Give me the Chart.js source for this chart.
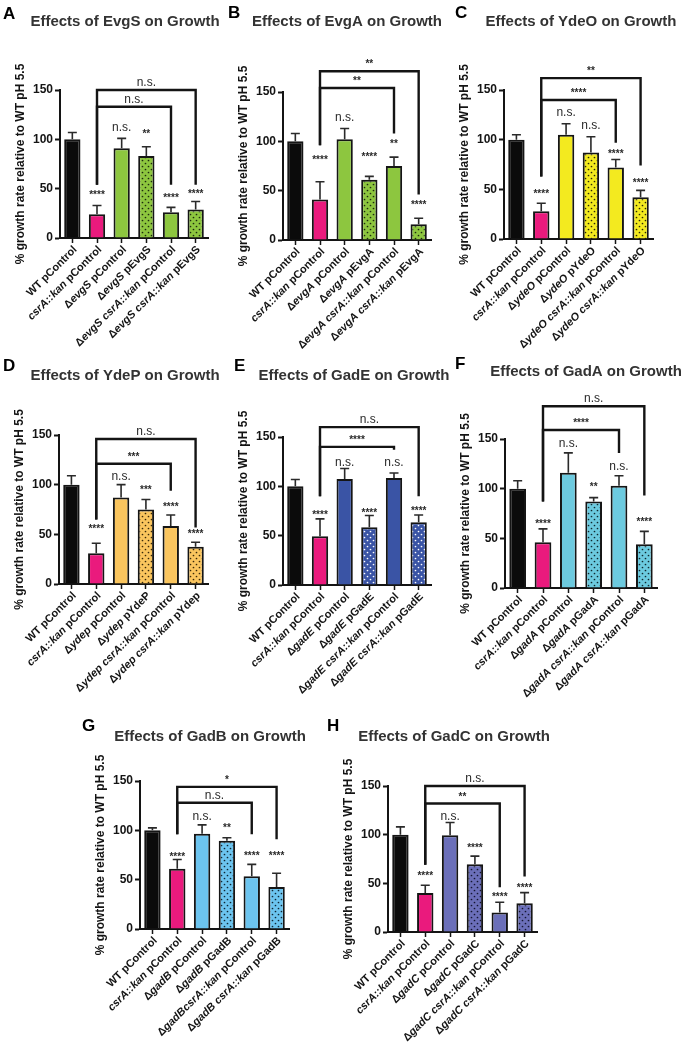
<!DOCTYPE html>
<html>
<head>
<meta charset="utf-8">
<script src="https://cdn.jsdelivr.net/npm/chart.js@4.4.1/dist/chart.umd.min.js"></script>
<style>
  html, body { margin: 0; padding: 0; background: #fff; width: 685px; height: 1049px; overflow: hidden; position: relative; }
  canvas { position: absolute; }
</style>
</head>
<body>
<script>
// ---- data (% growth rate relative to WT pH 5.5) ----
// underscores toggle italics in the labels
const labelsA = ['WT pControl', '_csrA::kan_ pControl', 'Δ_evgS_ pControl', 'Δ_evgS_ pEvgS', 'Δ_evgS csrA::kan_ pControl', 'Δ_evgS csrA::kan_ pEvgS'];
const meanA = [100, 24, 91, 83, 26, 29];
const sdA   = [7, 9, 10, 9.5, 5, 8];
const sigA  = ['', '****', 'n.s.', '**', '****', '****'];
const sigYA = [0, 46, 112, 108, 43, 47];
const bracketsA = [
  { to: 5, y: 150, text: 'n.s.', legL: 54, legR: 54 },
  { to: 4, y: 133, text: 'n.s.', legL: 54, legR: 54 }
];

const labelsB = ['WT pControl', '_csrA::kan_ pControl', 'Δ_evgA_ pControl', 'Δ_evgA_ pEvgA', 'Δ_evgA csrA::kan_ pControl', 'Δ_evgA csrA::kan_ pEvgA'];
const meanB = [100, 41, 102, 61, 75, 16];
const sdB   = [8, 18, 11, 3.5, 9, 6];
const sigB  = ['', '****', 'n.s.', '****', '**', '****'];
const sigYB = [0, 84, 124, 87, 100, 38];
const bracketsB = [
  { to: 5, y: 171, text: '**', legL: 96, legR: 46 },
  { to: 4, y: 154, text: '**', legL: 96, legR: 108 }
];

const labelsC = ['WT pControl', '_csrA::kan_ pControl', 'Δ_ydeO_ pControl', 'Δ_ydeO_ pYdeO', 'Δ_ydeO csrA::kan_ pControl', 'Δ_ydeO csrA::kan_ pYdeO'];
const meanC = [100, 28, 105, 87, 72, 42];
const sdC   = [5, 8, 11, 16, 8, 7];
const sigC  = ['', '****', 'n.s.', 'n.s.', '****', '****'];
const sigYC = [0, 48, 127, 114, 88, 59];
const bracketsC = [
  { to: 5, y: 162, text: '**', legL: 63, legR: 74 },
  { to: 4, y: 140, text: '****', legL: 63, legR: 97 }
];

const labelsD = ['WT pControl', '_csrA::kan_ pControl', 'Δ_ydep_ pControl', 'Δ_ydep_ pYdeP', 'Δ_ydep csrA::kan_ pControl', 'Δ_ydep csrA::kan_ pYdep'];
const meanD = [100, 31, 87, 75, 58.5, 37.5];
const sdD   = [9, 10, 13, 10, 11, 4.5];
const sigD  = ['', '****', 'n.s.', '***', '****', '****'];
const sigYD = [0, 58, 108, 97, 80, 53];
const bracketsD = [
  { to: 5, y: 146, text: 'n.s.', legL: 65, legR: 57 },
  { to: 4, y: 121, text: '***', legL: 65, legR: 94 }
];

const labelsE = ['WT pControl', '_csrA::kan_ pControl', 'Δ_gadE_ pControl', 'Δ_gadE_ pGadE', 'Δ_gadE csrA::kan_ pControl', 'Δ_gadE csrA::kan_ pGadE'];
const meanE = [100, 49.5, 107.5, 58.5, 108.5, 63.5];
const sdE   = [7, 17.5, 10.5, 12, 5, 7.5];
const sigE  = ['', '****', 'n.s.', '****', 'n.s.', '****'];
const sigYE = [0, 74, 124, 76, 124, 78];
const bracketsE = [
  { to: 5, y: 160, text: 'n.s.', legL: 90, legR: 90 },
  { to: 4, y: 140, text: '****', legL: 90, legR: 137 }
];

const labelsF = ['WT pControl', '_csrA::kan_ pControl', 'Δ_gadA_ pControl', 'Δ_gadA_ pGadA', 'Δ_gadA csrA::kan_ pControl', 'Δ_gadA csrA::kan_ pGadA'];
const meanF = [100, 46, 116, 87, 103, 44];
const sdF   = [8, 13.5, 20, 4, 10, 13];
const sigF  = ['', '****', 'n.s.', '**', 'n.s.', '****'];
const sigYF = [0, 67, 145, 104, 122, 69];
const bracketsF = [
  { to: 5, y: 183, text: 'n.s.', legL: 87, legR: 93 },
  { to: 4, y: 159, text: '****', legL: 87, legR: 136 }
];

const labelsG = ['WT pControl', '_csrA::kan_ pControl', 'Δ_gadB_ pControl', 'Δ_gadB_ pGadB', 'Δ_gadBcsrA::kan_ pControl', 'Δ_gadB csrA::kan_ pGadB'];
const meanG = [100, 61, 96.5, 89.5, 53.5, 42.5];
const sdG   = [2.5, 9.5, 9, 3, 12, 14];
const sigG  = ['', '****', 'n.s.', '**', '****', '****'];
const sigYG = [0, 76, 114, 105, 77, 77];
const bracketsG = [
  { to: 5, y: 144, text: '*', legL: 96, legR: 91 },
  { to: 4, y: 128, text: 'n.s.', legL: 96, legR: 96 }
];

const labelsH = ['WT pControl', '_csrA::kan_ pControl', 'Δ_gadC_ pControl', 'Δ_gadC_ pGadC', 'Δ_gadC csrA::kan_ pControl', 'Δ_gadC csrA::kan_ pGadC'];
const meanH = [100, 40, 99.5, 69.5, 20, 29.5];
const sdH   = [8, 8, 13, 8.5, 10.5, 11];
const sigH  = ['', '****', 'n.s.', '****', '****', '****'];
const sigYH = [0, 60, 118, 89, 39, 48];
const bracketsH = [
  { to: 5, y: 150, text: 'n.s.', legL: 69, legR: 57 },
  { to: 4, y: 132, text: '**', legL: 69, legR: 46 }
];

const yTicks = [0, 50, 100, 150];
const yTitle = '% growth rate relative to WT pH 5.5';

// ---- layout / styling (page pixels) ----
const FAMILY = "'Liberation Sans', Arial, Helvetica, sans-serif";
const INK = '#141414';
const WT_COLOR = '#0b0b0b';
const CSRA_COLOR = '#ea1a7d';

const panels = [
  { letter: 'A', title: 'Effects of EvgS on Growth', box: [0, 0, 228, 350], axisX: 60, top: 90, bottom: 238, right: 208,
    titleX: 125, titleY: 22, letterX: 3, letterY: 6, color: '#8dc63f', dot: '#1d2a0e',
    labels: labelsA, mean: meanA, sd: sdA, sig: sigA, sigY: sigYA, brackets: bracketsA },
  { letter: 'B', title: 'Effects of EvgA on Growth', box: [225, 0, 230, 350], axisX: 283, top: 92, bottom: 240, right: 431,
    titleX: 347, titleY: 22, letterX: 228, letterY: 5, color: '#8dc63f', dot: '#1d2a0e',
    labels: labelsB, mean: meanB, sd: sdB, sig: sigB, sigY: sigYB, brackets: bracketsB },
  { letter: 'C', title: 'Effects of YdeO on Growth', box: [455, 0, 230, 350], axisX: 504, top: 90, bottom: 239, right: 653,
    titleX: 581, titleY: 22, letterX: 455, letterY: 5, color: '#f3ea1f', dot: '#2a2706',
    labels: labelsC, mean: meanC, sd: sdC, sig: sigC, sigY: sigYC, brackets: bracketsC },
  { letter: 'D', title: 'Effects of YdeP on Growth', box: [0, 350, 228, 362], axisX: 59, top: 435, bottom: 584, right: 208,
    titleX: 125, titleY: 376, letterX: 3, letterY: 358, color: '#fac55e', dot: '#3a2a08',
    labels: labelsD, mean: meanD, sd: sdD, sig: sigD, sigY: sigYD, brackets: bracketsD },
  { letter: 'E', title: 'Effects of GadE on Growth', box: [225, 350, 230, 362], axisX: 283, top: 437, bottom: 585, right: 431,
    titleX: 354, titleY: 376, letterX: 234, letterY: 358, color: '#3a54a5', dot: '#ffffff',
    labels: labelsE, mean: meanE, sd: sdE, sig: sigE, sigY: sigYE, brackets: bracketsE },
  { letter: 'F', title: 'Effects of GadA on Growth', box: [455, 350, 230, 362], axisX: 505, top: 439, bottom: 588, right: 657,
    titleX: 586, titleY: 372, letterX: 455, letterY: 356, color: '#6ccadf', dot: '#10282d',
    labels: labelsF, mean: meanF, sd: sdF, sig: sigF, sigY: sigYF, brackets: bracketsF },
  { letter: 'G', title: 'Effects of GadB on Growth', box: [40, 700, 300, 349], axisX: 140, top: 781, bottom: 929, right: 289,
    titleX: 210, titleY: 737, letterX: 82, letterY: 718, color: '#6cc4ef', dot: '#0f2633',
    labels: labelsG, mean: meanG, sd: sdG, sig: sigG, sigY: sigYG, brackets: bracketsG },
  { letter: 'H', title: 'Effects of GadC on Growth', box: [320, 700, 300, 349], axisX: 388, top: 786, bottom: 932, right: 537,
    titleX: 454, titleY: 737, letterX: 327, letterY: 718, color: '#6b6fb9', dot: '#141530',
    labels: labelsH, mean: meanH, sd: sdH, sig: sigH, sigY: sigYH, brackets: bracketsH }
];

// dotted fill for the "complemented" bars
function dotted (base, dot) {
  const c = document.createElement('canvas');
  c.width = 6; c.height = 6;
  const g = c.getContext('2d');
  g.fillStyle = base;
  g.fillRect(0, 0, 6, 6);
  g.fillStyle = dot;
  [[1.5, 1.5], [4.5, 4.5]].forEach(([x, y]) => {
    g.beginPath(); g.arc(x, y, 0.85, 0, Math.PI * 2); g.fill();
  });
  return g.createPattern(c, 'repeat');
}

// label text with _italic_ parts, drawn right-aligned at the origin
function richText (ctx, text, size) {
  const parts = text.split('_');
  const fonts = parts.map((p, k) => (k % 2 ? 'italic ' : '') + 'bold ' + size + 'px ' + FAMILY);
  const widths = parts.map((p, k) => { ctx.font = fonts[k]; return ctx.measureText(p).width; });
  let x = -widths.reduce((a, b) => a + b, 0);
  parts.forEach((p, k) => { ctx.font = fonts[k]; ctx.fillText(p, x, 0); x += widths[k]; });
}

const panelPlugin = {
  id: 'panel',
  afterDatasetsDraw (chart, args, p) {
    const ctx = chart.ctx;
    const ys = chart.scales.y;
    const bars = chart.getDatasetMeta(0).data;
    ctx.save();
    ctx.strokeStyle = '#2a2a2a';
    ctx.lineWidth = 1.6;
    p.sd.forEach((sd, i) => {
      const x = bars[i].x;
      const yTop = ys.getPixelForValue(p.mean[i] + sd);
      ctx.beginPath();
      ctx.moveTo(x, bars[i].y);
      ctx.lineTo(x, yTop);
      ctx.moveTo(x - 4.5, yTop);
      ctx.lineTo(x + 4.5, yTop);
      ctx.stroke();
    });
    ctx.restore();
  },
  afterDraw (chart, args, p) {
    const ctx = chart.ctx;
    const ys = chart.scales.y;
    const xs = chart.scales.x;
    const area = chart.chartArea;
    const ox = p.box[0], oy = p.box[1];
    ctx.save();

    // panel letter + title
    ctx.fillStyle = '#000';
    ctx.font = 'bold 17px ' + FAMILY;
    ctx.textAlign = 'left';
    ctx.textBaseline = 'top';
    ctx.fillText(p.letter, p.letterX - ox, p.letterY - oy);
    ctx.fillStyle = '#333';
    ctx.font = 'bold 15px ' + FAMILY;
    ctx.textAlign = 'center';
    ctx.textBaseline = 'middle';
    ctx.fillText(p.title, p.titleX - ox, p.titleY - oy);

    // y axis title
    ctx.save();
    ctx.translate(area.left - 39, (area.top + area.bottom) / 2);
    ctx.rotate(-Math.PI / 2);
    ctx.fillStyle = INK;
    ctx.font = 'bold 12px ' + FAMILY;
    ctx.fillText(yTitle, 0, 0);
    ctx.restore();

    // rotated category labels
    ctx.fillStyle = INK;
    ctx.textAlign = 'left';
    ctx.textBaseline = 'middle';
    p.labels.forEach((lab, i) => {
      const x = xs.getPixelForValue(i);
      ctx.save();
      ctx.translate(x + 3, area.bottom + 10);
      ctx.rotate(-Math.PI / 4);
      richText(ctx, lab, 11);
      ctx.restore();
    });

    // significance marks
    const mark = (txt, x, yPix) => {
      const star = txt.indexOf('*') === 0;
      ctx.font = star ? 'bold 10px ' + FAMILY : '12px ' + FAMILY;
      ctx.fillText(txt, x, yPix);
    };
    ctx.fillStyle = '#2a2a2a';
    ctx.textAlign = 'center';
    ctx.textBaseline = 'alphabetic';
    p.sig.forEach((s, i) => {
      if (!s) return;
      const yc = ys.getPixelForValue(p.sigY[i]);
      mark(s, xs.getPixelForValue(i), yc + (s[0] === '*' ? 5.8 : 3.2));
    });

    // comparison brackets from csrA::kan pControl
    ctx.strokeStyle = INK;
    ctx.lineWidth = 2.4;
    ctx.lineJoin = 'miter';
    p.brackets.forEach(b => {
      const xl = xs.getPixelForValue(1);
      const xr = xs.getPixelForValue(b.to);
      const yb = ys.getPixelForValue(b.y);
      ctx.beginPath();
      ctx.moveTo(xl, ys.getPixelForValue(b.legL));
      ctx.lineTo(xl, yb);
      ctx.lineTo(xr, yb);
      ctx.lineTo(xr, ys.getPixelForValue(b.legR));
      ctx.stroke();
      mark(b.text, (xl + xr) / 2, yb - 4);
    });
    ctx.restore();
  }
};

panels.forEach(p => {
  const [bx, by, bw, bh] = p.box;
  const cv = document.createElement('canvas');
  cv.width = bw; cv.height = bh;
  cv.style.left = bx + 'px';
  cv.style.top = by + 'px';
  document.body.appendChild(cv);

  const fills = p.labels.map((l, i) => {
    if (i === 0) return WT_COLOR;
    if (i === 1) return CSRA_COLOR;
    return (i === 3 || i === 5) ? dotted(p.color, p.dot) : p.color;
  });

  new Chart(cv, {
    type: 'bar',
    data: {
      labels: p.labels,
      datasets: [{
        data: p.mean,
        backgroundColor: fills,
        borderColor: '#151515',
        borderWidth: 2,
        barPercentage: 0.66,
        categoryPercentage: 1
      }]
    },
    plugins: [panelPlugin],
    options: {
      responsive: false,
      animation: false,
      devicePixelRatio: 1,
      events: [],
      layout: { padding: { left: 0, top: p.top - by, right: bx + bw - p.right, bottom: 0 } },
      plugins: { legend: { display: false }, tooltip: { enabled: false }, panel: p },
      scales: {
        x: {
          offset: true,
          grid: { display: true, drawOnChartArea: false, offset: false, tickLength: 5, tickWidth: 1.5, tickColor: INK },
          border: { display: true, width: 2, color: INK },
          ticks: { display: false },
          afterFit: s => { s.height = by + bh - p.bottom; }
        },
        y: {
          min: yTicks[0],
          max: yTicks[yTicks.length - 1],
          afterBuildTicks: s => { s.ticks = yTicks.map(v => ({ value: v })); },
          ticks: { color: INK, padding: 2, font: { family: FAMILY, weight: 'bold', size: 12 } },
          grid: { drawOnChartArea: false, tickLength: 5, tickWidth: 2, tickColor: INK },
          border: { display: true, width: 2, color: INK },
          afterFit: s => { s.width = p.axisX - bx; }
        }
      }
    }
  });
});
</script>
</body>
</html>
